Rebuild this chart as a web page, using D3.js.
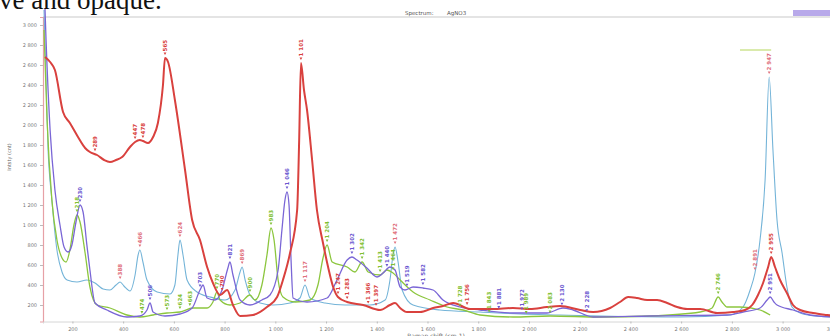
<!DOCTYPE html>
<html>
<head>
<meta charset="utf-8">
<script src="https://cdn.jsdelivr.net/npm/d3@7"></script>
<style>
  body { margin: 0; background: #fff; }
  svg { display: block; }
</style>
</head>
<body>
<svg id="chart" width="830" height="336"></svg>
<script>
// Raman spectra: [shift (cm-1), intensity (cnt)]
const redSpectrum = [[92,2680],[112,2630],[131,2550],[163,2130],[190,2020],[222,1880],[250,1770],[269,1730],[297,1700],[325,1650],[348,1630],[372,1650],[396,1680],[427,1780],[447,1830],[466,1850],[478,1840],[498,1820],[518,1880],[537,2020],[557,2400],[565,2670],[577,2630],[604,2250],[644,1550],[672,1050],[703,850],[731,580],[754,420],[782,300],[810,350],[833,200],[861,90],[912,100],[967,180],[1007,280],[1030,450],[1058,720],[1086,1150],[1094,1850],[1101,2620],[1113,2350],[1125,2150],[1145,1650],[1164,1150],[1188,820],[1208,580],[1228,380],[1247,280],[1283,230],[1346,200],[1413,150],[1452,200],[1472,220],[1492,170],[1519,130],[1571,130],[1622,170],[1661,190],[1701,220],[1768,160],[1858,160],[1937,170],[2004,160],[2071,180],[2123,190],[2202,150],[2253,130],[2320,170],[2359,230],[2391,280],[2426,270],[2466,250],[2505,250],[2545,220],[2584,180],[2624,160],[2675,160],[2742,120],[2805,130],[2852,150],[2880,200],[2903,300],[2923,420],[2943,580],[2955,680],[2970,580],[2990,450],[3017,320],[3041,200],[3069,150],[3120,120],[3175,100],[3207,90]];

const blueSpectrum = [[88,3150],[104,1750],[119,1250],[139,750],[159,530],[179,450],[218,430],[257,450],[289,420],[321,360],[348,350],[372,400],[388,430],[403,390],[427,340],[447,500],[459,700],[466,750],[478,630],[494,450],[534,330],[585,310],[604,400],[616,700],[624,850],[636,700],[652,450],[691,330],[743,280],[802,250],[841,350],[861,530],[869,580],[881,450],[900,300],[940,220],[991,200],[1058,220],[1097,270],[1117,400],[1137,270],[1196,220],[1275,200],[1373,200],[1433,250],[1452,450],[1464,700],[1472,780],[1484,630],[1500,350],[1543,200],[1649,150],[1807,130],[1965,110],[2123,100],[2280,90],[2596,80],[2793,100],[2844,180],[2872,350],[2891,520],[2911,850],[2931,1450],[2947,2480],[2962,1750],[2978,1050],[2998,720],[3017,380],[3037,180],[3069,120],[3128,90],[3207,80]];

const greenSpectrum = [[88,2950],[100,2050],[119,1250],[139,850],[159,670],[175,630],[190,750],[206,1000],[218,1100],[230,1030],[250,720],[269,380],[297,200],[348,170],[415,100],[466,80],[518,100],[573,120],[624,130],[675,170],[731,170],[754,230],[770,330],[782,250],[821,200],[861,220],[900,300],[920,250],[947,400],[967,700],[983,970],[995,850],[1011,450],[1030,280],[1078,230],[1137,250],[1168,400],[1188,670],[1204,800],[1224,630],[1283,580],[1314,530],[1342,630],[1366,530],[1413,500],[1440,550],[1464,520],[1492,450],[1543,330],[1610,250],[1677,180],[1740,150],[1807,100],[1937,80],[2083,90],[2280,80],[2477,90],[2675,130],[2722,170],[2746,280],[2761,230],[2781,180],[2832,180],[2911,150],[2951,100]];

const purpleSpectrum = [[88,3450],[96,2850],[112,1950],[131,1350],[151,1000],[167,780],[183,730],[198,800],[214,1030],[230,1200],[242,1130],[257,800],[269,550],[289,220],[336,150],[415,80],[466,90],[494,150],[506,220],[518,130],[565,90],[624,110],[672,170],[703,350],[715,400],[731,270],[762,250],[790,350],[813,570],[821,630],[833,500],[861,250],[900,200],[947,250],[979,300],[1011,550],[1026,950],[1038,1250],[1046,1330],[1054,1200],[1062,650],[1070,270],[1125,230],[1204,270],[1243,450],[1283,650],[1302,680],[1322,650],[1361,570],[1401,480],[1425,520],[1452,580],[1472,550],[1492,380],[1511,350],[1543,380],[1582,370],[1622,350],[1661,250],[1728,180],[1807,150],[1937,120],[2071,120],[2134,170],[2174,150],[2253,80],[2477,90],[2781,100],[2844,130],[2911,170],[2939,250],[2951,280],[2966,230],[2978,200],[3041,150],[3108,100],[3207,80]];

// Peak markers (shift, cm-1) for each spectrum
const redPeaks = [289, 447, 478, 565, 790, 1101, 1247, 1283, 1366, 1397, 1756, 2955];
const bluePeaks = [388, 466, 624, 869, 1117, 1472, 2891, 2947];
const purplePeaks = [230, 506, 703, 821, 1046, 1302, 1440, 1519, 1582, 1881, 1972, 2130, 2228, 2951];
const greenPeaks = [218, 474, 573, 624, 663, 770, 900, 983, 1204, 1342, 1413, 1464, 1728, 1843, 1989, 2083, 2746];

// Cursor band drawn over the C-H region
const cursorBand = [2832, 2955];

const yTicks = d3.range(200, 3001, 200);
const xTicks = d3.range(200, 3201, 200);

const series = [
  { name: "blue",   data: blueSpectrum,   peaks: bluePeaks,   stroke: "#74b4d8", label: "#e0707c", width: 1.1 },
  { name: "green",  data: greenSpectrum,  peaks: greenPeaks,  stroke: "#8cc63e", label: "#7fbf33", width: 1.3 },
  { name: "purple", data: purpleSpectrum, peaks: purplePeaks, stroke: "#7a66d6", label: "#6b58d0", width: 1.3 },
  { name: "red",    data: redSpectrum,    peaks: redPeaks,    stroke: "#d9413e", label: "#d9413e", width: 2.0 }
];

const svg = d3.select("#chart");
const W = 830, H = 336;
const plot = { left: 43, top: 17, bottom: 321.5, right: 838.4 };

const x = d3.scaleLinear().domain([84, 3220]).range([plot.left, plot.right]);
const y = d3.scaleLinear().domain([35, 3080]).range([plot.bottom, plot.top]);
const fmt = v => d3.format(",")(v).replace(/,/g, " ");

// Caption text of the surrounding page
svg.append("text")
  .attr("x", -1).attr("y", 9)
  .attr("font-family", "'Liberation Serif', 'Times New Roman', serif")
  .attr("font-size", 27)
  .attr("fill", "#111")
  .text("ve and opaque.");

// Panel frame
svg.append("line")
  .attr("x1", plot.left).attr("x2", W).attr("y1", plot.top).attr("y2", plot.top)
  .attr("stroke", "#c9c9c9").attr("stroke-width", 1.2);

svg.append("text")
  .attr("x", 405).attr("y", 15)
  .attr("font-family", "'DejaVu Sans', sans-serif").attr("font-size", 5.5).attr("fill", "#555")
  .text("Spectrum:");
svg.append("text")
  .attr("x", 447).attr("y", 15)
  .attr("font-family", "'DejaVu Sans', sans-serif").attr("font-size", 5.5).attr("fill", "#555")
  .text("AgNO3");

svg.append("rect")
  .attr("x", 793).attr("y", 10).attr("width", 40).attr("height", 6)
  .attr("fill", "#b8a9ea");

// Axes
const yAxis = svg.append("g")
  .attr("transform", `translate(${plot.left},0)`)
  .call(d3.axisLeft(y).tickValues(yTicks).tickSize(3).tickFormat(fmt));
const xAxis = svg.append("g")
  .attr("transform", `translate(0,${plot.bottom})`)
  .call(d3.axisBottom(x).tickValues(xTicks).tickSize(2).tickFormat(fmt));
[yAxis, xAxis].forEach(g => {
  g.selectAll("text").attr("font-family", "'DejaVu Sans', sans-serif").attr("font-size", 5).attr("fill", "#777");
  g.selectAll(".tick line").attr("stroke", "#bbb");
});
yAxis.select(".domain").attr("stroke", "#e6a0a6").attr("stroke-width", 1.2);
xAxis.select(".domain").attr("stroke", "#d6d6d6");
xAxis.selectAll("text").attr("dy", "0.9em");

svg.append("text")
  .attr("transform", "translate(11,157) rotate(-90)")
  .attr("text-anchor", "middle")
  .attr("font-family", "'DejaVu Sans', sans-serif").attr("font-size", 5).attr("fill", "#666")
  .text("Intsty (cnt)");
svg.append("text")
  .attr("x", 436).attr("y", 338)
  .attr("text-anchor", "middle")
  .attr("font-family", "'DejaVu Sans', sans-serif").attr("font-size", 6).attr("fill", "#666")
  .text("Raman shift (cm-1)");

// Spectra
svg.append("clipPath").attr("id", "plotClip")
  .append("rect").attr("x", plot.left).attr("y", plot.top - 8)
  .attr("width", plot.right - plot.left).attr("height", plot.bottom - plot.top + 8);

const line = d3.line().x(d => x(d[0])).y(d => y(d[1])).curve(d3.curveMonotoneX);
const lines = svg.append("g").attr("clip-path", "url(#plotClip)");
series.forEach(s => {
  lines.append("path")
    .datum(s.data)
    .attr("fill", "none")
    .attr("stroke", s.stroke)
    .attr("stroke-width", s.width)
    .attr("stroke-linejoin", "round")
    .attr("d", line);
});

// Peak labels sit just above the spectrum at their shift
function valueAt(data, shift) {
  const i = d3.bisector(d => d[0]).left(data, shift);
  if (i <= 0) return data[0][1];
  if (i >= data.length) return data[data.length - 1][1];
  const a = data[i - 1], b = data[i];
  const t = (shift - a[0]) / (b[0] - a[0]);
  return a[1] + t * (b[1] - a[1]);
}

const labels = svg.append("g");
series.forEach(s => {
  s.peaks.forEach(p => {
    const px = x(p), py = y(valueAt(s.data, p));
    const g = labels.append("g").attr("transform", `translate(${px},${py - 3})`);
    g.append("path").attr("d", "M0,0 L-1.4,-2.6 L1.4,-2.6 Z").attr("fill", s.label);
    g.append("text")
      .attr("transform", "translate(2,-3.6) rotate(-90)")
      .attr("font-family", "'DejaVu Sans', sans-serif")
      .attr("font-size", 5.5).attr("font-weight", "bold")
      .attr("fill", s.label)
      .text(fmt(p));
  });
});

svg.append("line")
  .attr("x1", x(cursorBand[0])).attr("x2", x(cursorBand[1])).attr("y1", 50).attr("y2", 50)
  .attr("stroke", "#b5d65a").attr("stroke-width", 1);
</script>
</body>
</html>
